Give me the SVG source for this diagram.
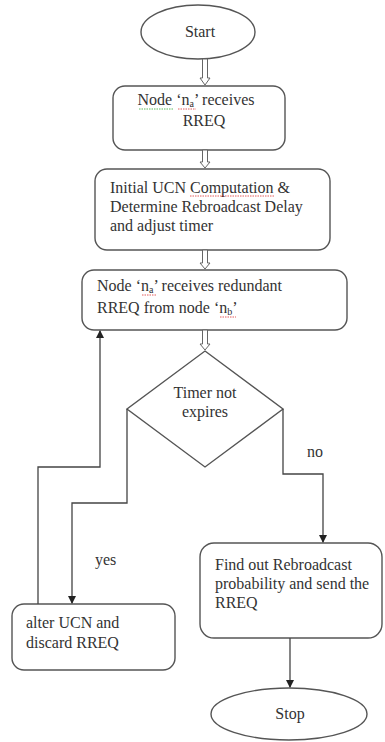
<svg xmlns="http://www.w3.org/2000/svg" width="385" height="742" viewBox="0 0 385 742">
<style>
.n{fill:#fff;stroke:#555;stroke-width:1.4}
.c{fill:none;stroke:#444;stroke-width:1.3}
.da{fill:#fff;stroke:#666;stroke-width:1}
text{font-family:'Liberation Serif','Times New Roman',serif;font-size:16px;fill:#333}
.m{text-anchor:middle}
.s{font-size:10px}
.sq{fill:none;stroke-width:0.8;stroke-dasharray:1.5 1}
</style>
<defs>
<marker id="ah" markerWidth="8" markerHeight="8" refX="7" refY="4" orient="auto" markerUnits="userSpaceOnUse">
<path d="M0,0 L8,4 L0,8 z" fill="#222"/>
</marker>
</defs>
<rect width="385" height="742" fill="#fff"/>
<g id="start">
<ellipse class="n" cx="198" cy="32" rx="57" ry="27"/>
<text class="m" x="200" y="37">Start</text>
</g>
<g id="receive">
<rect class="n" x="113" y="86" width="172" height="64" rx="12"/>
<text class="m" x="196" y="105">Node ‘n<tspan class="s" dy="2">a</tspan><tspan dy="-2">’ receives</tspan></text>
<text class="m" x="204" y="126">RREQ</text>
<path class="sq" stroke="#3a3" d="M139,109 H174"/>
<path class="sq" stroke="#d33" d="M178,109 H196"/>
</g>
<g id="compute">
<rect class="n" x="95" y="169" width="235" height="81" rx="12"/>
<text x="110" y="193">Initial UCN Computation &amp;</text>
<text x="110" y="212">Determine Rebroadcast Delay</text>
<text x="110" y="231">and adjust timer</text>
<path class="sq" stroke="#d33" d="M190,196 H274"/>
</g>
<g id="redundant">
<rect class="n" x="82" y="270" width="265" height="60" rx="12"/>
<text x="97" y="291">Node ‘n<tspan class="s" dy="2">a</tspan><tspan dy="-2">’ receives redundant</tspan></text>
<text x="97" y="313">RREQ from node ‘n<tspan class="s" dy="2">b</tspan><tspan dy="-2">’</tspan></text>
<path class="sq" stroke="#d33" d="M142,295 H157"/>
<path class="sq" stroke="#d33" d="M220,317 H236"/>
</g>
<g id="timer">
<polygon class="n" points="205,351 283,409 205,467 127,409"/>
<text class="m" x="205" y="398">Timer not</text>
<text class="m" x="205" y="417">expires</text>
</g>
<g id="alter">
<rect class="n" x="12" y="604" width="163" height="66" rx="12"/>
<text x="26" y="628">alter UCN  and</text>
<text x="26" y="648">discard RREQ</text>
</g>
<g id="findout">
<rect class="n" x="200" y="543" width="182" height="95" rx="14"/>
<text x="215" y="570">Find out Rebroadcast</text>
<text x="215" y="589">probability and send the</text>
<text x="215" y="608">RREQ</text>
</g>
<g id="stop">
<ellipse class="n" cx="289" cy="714" rx="78" ry="26"/>
<text class="m" x="290" y="719">Stop</text>
</g>
<g id="connectors">
<polygon class="da" points="202.5,59 207.5,59 207.5,78 210,78 205,85 200,78 202.5,78"/>
<polygon class="da" points="202.5,150 207.5,150 207.5,162 210,162 205,168 200,162 202.5,162"/>
<polygon class="da" points="202.5,250 207.5,250 207.5,263 210,263 205,269 200,263 202.5,263"/>
<polygon class="da" points="202.5,330 207.5,330 207.5,344 210,344 205,350 200,344 202.5,344"/>
<path class="c" d="M127,409 V503 H72 V603" marker-end="url(#ah)"/>
<path class="c" d="M38,604 V467 H100 V331" marker-end="url(#ah)"/>
<path class="c" d="M283,409 V474 H323 V542" marker-end="url(#ah)"/>
<path class="c" d="M290,638 V687" marker-end="url(#ah)"/>
<text x="95" y="565">yes</text>
<text x="307" y="457">no</text>
</g>
</svg>
